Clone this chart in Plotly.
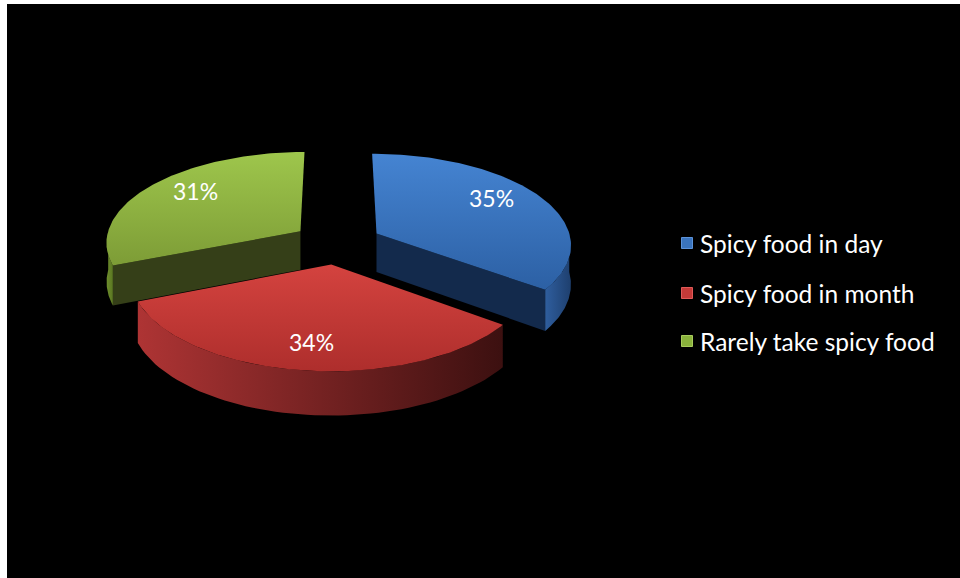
import numpy as np
import plotly.graph_objects as go

# ---- data ----
categories = ["Spicy food in day", "Spicy food in month", "Rarely take spicy food"]
values = [35, 34, 31]
label_text = ["35%", "34%", "31%"]

# ---- styling ----
# [top colour, bottom colour] of top faces
top_colors = [["#4584D2", "#2C60A4"], ["#D4433F", "#AE2E2C"], ["#9EC64C", "#7D9C36"]]
wall_colors = [["#2F5E9E", "#1E3F6E"], ["#AE3434", "#3C1010"], ["#6E8E2C", "#5A7622"]]
cut_colors = ["#132A4C", "#5A1616", "#353F18"]
legend_colors = ["#3A74BE", "#C43A38", "#8AB23C"]
legend_edge = ["#5C93DA", "#E05A58", "#A8CC5C"]
label_yshift = [8, -5, 7]

CX, CY = 337, 243      # pie centre (pixel units on the hidden axes)
A, B = 195, 92         # ellipse radii
P = 0.11               # perspective strength
DEPTH = 39             # thickness
EXPLODE = 0.23
START = 90.0
FONT = "Lato"


def proj(X, Z, h):
    s = 1 - P * np.asarray(Z)
    return CX + A * np.asarray(X) * s, CY - B * np.asarray(Z) * s + DEPTH * h * s


fig = go.Figure()

total = float(sum(values))
cum = np.concatenate([[0], np.cumsum(values)])
slices = []
for i, v in enumerate(values):
    t0 = START - 360 * cum[i] / total
    t1 = START - 360 * cum[i + 1] / total
    mid = np.radians((t0 + t1) / 2)
    ox, oz = EXPLODE * np.cos(mid), EXPLODE * np.sin(mid)
    slices.append((i, t0, t1, mid, ox, oz))

# draw back to front
order = sorted(slices, key=lambda s: -s[5])


def add_poly(xs, ys, grad_type, cs):
    xs = list(xs) + [xs[0]]
    ys = list(ys) + [ys[0]]
    kw = dict(x=xs, y=ys, mode="lines", line=dict(width=0), fill="toself",
              hoverinfo="skip", showlegend=False)
    if grad_type is None:
        kw["fillcolor"] = cs
    else:
        kw["fillcolor"] = cs[0]
        kw["fillgradient"] = dict(type=grad_type, colorscale=[[0, cs[0]], [1, cs[1]]])
    fig.add_trace(go.Scatter(**kw))


for (i, t0, t1, mid, ox, oz) in order:
    # cut (radial) faces
    for edge, normal in ((t0, t0 + 90), (t1, t1 - 90)):
        if np.sin(np.radians(normal)) < -0.05:
            e = np.radians(edge)
            X = [ox, ox + np.cos(e), ox + np.cos(e), ox]
            Z = [oz, oz + np.sin(e), oz + np.sin(e), oz]
            H = [0, 0, 1, 1]
            pts = [proj(x, z, h) for x, z, h in zip(X, Z, H)]
            add_poly([p[0] for p in pts], [p[1] for p in pts], None, cut_colors[i])
    # outer wall (front facing part)
    lo, hi = t1, t0
    for k in (-1, 0, 1):
        a0, a1 = max(lo, -180 + 360 * k), min(hi, 360 * k)
        if a1 - a0 > 0.5:
            th = np.radians(np.linspace(a0, a1, 60))
            xt, yt = proj(ox + np.cos(th), oz + np.sin(th), 0)
            xb, yb = proj(ox + np.cos(th), oz + np.sin(th), 1)
            add_poly(np.concatenate([xt, xb[::-1]]), np.concatenate([yt, yb[::-1]]),
                     "horizontal", wall_colors[i])
    # top face (vertical gradient: colourscale 0 is at the bottom on screen)
    th = np.radians(np.linspace(t0, t1, 120))
    xa, ya = proj(ox + np.cos(th), oz + np.sin(th), 0)
    cx0, cy0 = proj(ox, oz, 0)
    add_poly(np.concatenate([[cx0], xa]), np.concatenate([[cy0], ya]), "vertical",
             [top_colors[i][1], top_colors[i][0]])
    # data label
    lx, ly = proj(ox + 0.7 * np.cos(mid), oz + 0.7 * np.sin(mid), 0)
    fig.add_annotation(x=float(lx), y=float(ly), text=label_text[i], showarrow=False,
                       yshift=label_yshift[i],
                       font=dict(family=FONT, size=23, color="white"))

# legend (manual)
leg_y = [243, 293, 341]
for i, name in enumerate(categories):
    fig.add_trace(go.Scatter(x=[687], y=[leg_y[i]], mode="markers",
                             marker=dict(symbol="square", size=11, color=legend_colors[i],
                                         line=dict(width=1, color=legend_edge[i])),
                             hoverinfo="skip", showlegend=False))
    fig.add_annotation(x=698, y=leg_y[i], text=name, showarrow=False, xanchor="left",
                       font=dict(family=FONT, size=24.5, color="white"))

fig.update_layout(
    width=960, height=578,
    margin=dict(l=0, r=0, t=0, b=0),
    paper_bgcolor="white", plot_bgcolor="white",
    xaxis=dict(range=[0, 960], visible=False, fixedrange=True),
    yaxis=dict(range=[578, 0], visible=False, fixedrange=True),
    shapes=[dict(type="rect", xref="x", yref="y", x0=7, x1=960, y0=4, y1=578,
                 fillcolor="black", line=dict(width=0), layer="below")],
)

fig.write_html("out.html")
